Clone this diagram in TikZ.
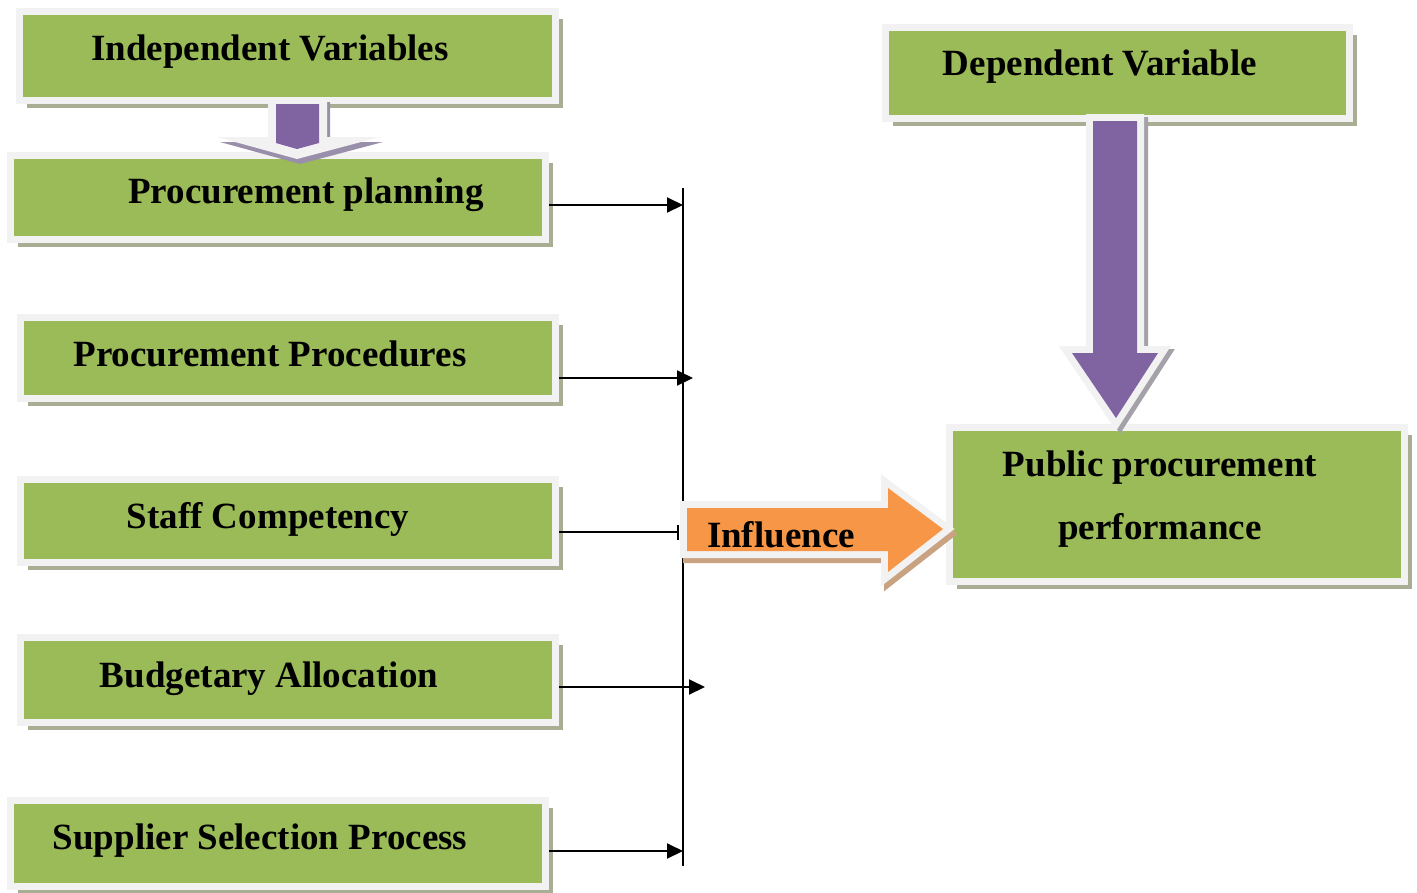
\documentclass[tikz,border=0pt]{standalone}
\usepackage{fontspec}
\setmainfont{Liberation Serif}
\usetikzlibrary{shadows,arrows.meta,calc}
\definecolor{boxgreen}{HTML}{9BBB59}
\definecolor{framegray}{HTML}{F2F2F2}
\definecolor{shadowgray}{HTML}{A8AD94}
\definecolor{arrowshadow}{HTML}{A4A2A8}
\definecolor{wingshadow}{HTML}{9A8FAA}
\definecolor{arrowpurple}{HTML}{8064A2}
\definecolor{arroworange}{HTML}{F79646}
\definecolor{orangeshadow}{HTML}{C9A282}
\newcommand{\smallframepath}{(268,97) -- (327,97) -- (327,137) -- (380,137) -- (297,159) -- (217,137) -- (268,137) -- cycle}
\newcommand{\bigdownpath}{(1093,121) -- (1137,121) -- (1137,353) -- (1158,353) -- (1116,418) -- (1072,353) -- (1093,353) -- cycle}
\newcommand{\influencepath}{(687,508) -- (888,508) -- (888,488) -- (943,529) -- (888,572) -- (888,551) -- (687,551) -- cycle}
\begin{document}
\begin{tikzpicture}[x=1pt,y=-1pt,
  varbox/.style={draw=framegray, line width=7pt, fill=boxgreen, inner sep=0pt, anchor=north west,
    drop shadow={shadow xshift=7.5pt, shadow yshift=-7.5pt, fill=shadowgray, opacity=1}},
  lbl/.style={font=\fontsize{37}{44}\selectfont\bfseries, anchor=base, inner sep=0pt},
  conn/.style={line width=2pt, -{Triangle[length=16pt,width=15pt]}},
  framed/.style={line join=miter, preaction={draw=framegray, line width=14pt, line join=miter}},
  shadowed/.style={line join=miter, line width=14pt, draw=#1, fill=#1}
]
\useasboundingbox (0,0) rectangle (1417,892);

% variable boxes
\node[varbox, minimum width=536pt, minimum height=89pt] (b1) at (16,8) {};
\node[varbox, minimum width=535pt, minimum height=84pt] (b2) at (7,152) {};
\node[varbox, minimum width=535pt, minimum height=81pt] (b3) at (17,314) {};
\node[varbox, minimum width=535pt, minimum height=83pt] (b4) at (17,476) {};
\node[varbox, minimum width=535pt, minimum height=85pt] (b5) at (17,634) {};
\node[varbox, minimum width=535pt, minimum height=86pt] (b6) at (7,797) {};
\node[varbox, minimum width=464pt, minimum height=91pt] (b7) at (882,24) {};
\node[varbox, minimum width=455pt, minimum height=154pt] (b8) at (946,424) {};

% collecting line and connectors
\coordinate (vtop) at (683,188);
\coordinate (vbot) at (683,866);
\draw[line width=2pt] (vtop) -- (vbot);
\coordinate (e1) at (683,205);
\coordinate (e2) at (693,378);
\coordinate (e3) at (679,532);
\coordinate (e4) at (705,687);
\coordinate (e5) at (683,851);
\draw[conn] (b2.east |- e1) -- (e1);
\draw[conn] (b3.east |- e2) -- (e2);
\draw[line width=2pt, -{Bar[width=15pt]}] (b4.east |- e3) -- (e3);
\draw[conn] (b5.east |- e4) -- (e4);
\draw[conn] (b6.east |- e5) -- (e5);

% small arrow
\fill[wingshadow, shift={(3,5)}] \smallframepath;
\fill[framegray] \smallframepath;
\fill[arrowpurple] (276,104) -- (319,104) -- (319,143) -- (297,149) -- (276,143) -- cycle;

% big purple arrow
\path[shadowed=arrowshadow, shift={(4,3)}] \bigdownpath;
\path[framed, fill=arrowpurple] \bigdownpath;

% influence arrow
\path[shadowed=orangeshadow, shift={(3,5)}] \influencepath;
\path[framed, fill=arroworange] \influencepath;

% labels
\node[lbl] (t1) at (270,60) {Independent Variables};
\node[lbl] (t2) at (306,203) {Procurement planning};
\node[lbl] (t3) at (270,366) {Procurement Procedures};
\node[lbl] (t4) at (268,528) {Staff Competency};
\node[lbl] (t5) at (269,687) {Budgetary Allocation};
\node[lbl] (t6) at (260,849) {Supplier Selection Process};
\node[lbl] (t7) at (1100,75) {Dependent Variable};
\node[lbl] (t8) at (1160,476) {Public procurement};
\node[lbl] (t9) at (1160,539) {performance};
\node[lbl] (t10) at (781,547) {Influence};
\end{tikzpicture}
\end{document}
